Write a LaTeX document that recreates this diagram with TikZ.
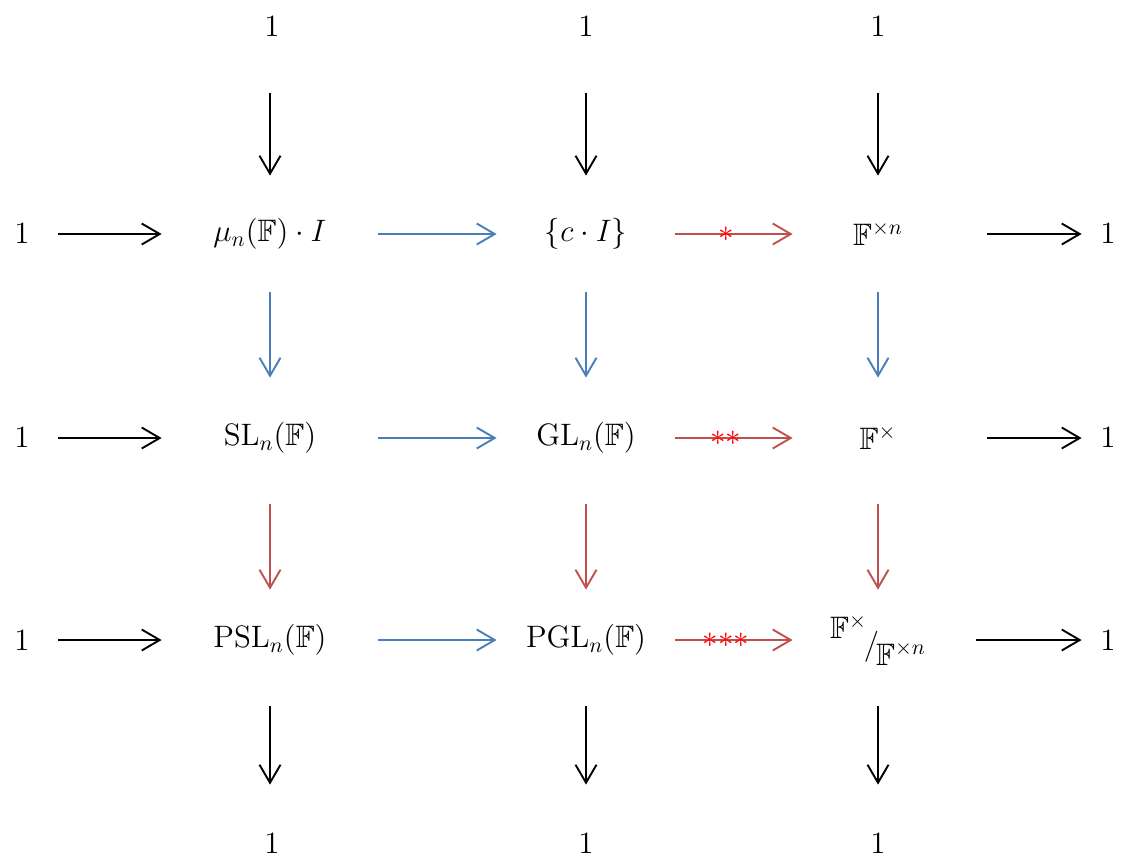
\RequirePackage{fix-cm}
\documentclass[tikz,border=0pt]{standalone}
\usepackage{amssymb}
\usetikzlibrary{arrows.meta}
\definecolor{ablue}{RGB}{74,126,187}
\definecolor{ared}{RGB}{192,80,77}
\definecolor{sred}{RGB}{255,0,0}
\begin{document}
\begin{tikzpicture}[x=0.5pt,y=-0.5pt,
  every node/.style={font=\fontsize{15.5}{18}\selectfont},
  obj/.style 2 args={inner sep=0pt, minimum width=#1pt, minimum height=#2pt},
  arr/.style={-{Straight Barb[length=9pt,width=10.5pt]}, line width=0.95pt},
  blk/.style={arr, black},
  blu/.style={arr, ablue},
  rd/.style={arr, ared},
  star/.style={text=sred, inner sep=0pt}
]
\useasboundingbox (0,0) rectangle (1127,857);
% top row
\node[obj={36}{66}] (t1) at (272,27) {$1$};
\node[obj={89}{66}] (t2) at (586,27) {$1$};
\node[obj={85}{66}] (t3) at (878,27) {$1$};
% row 1
\node[obj={36}{58}] (a0) at (22,234) {$1$};
\node[obj={108}{58}] (a1) at (270,234) {$\mu_n(\mathbb{F})\cdot I$};
\node[obj={89}{58}] (a2) at (586,234) {$\{c\cdot I\}$};
\node[obj={85}{58}] (a3) at (878,234) {$\mathbb{F}^{\times n}$};
\node[obj={26}{58}] (a4) at (1108,234) {$1$};
% row 2
\node[obj={36}{60}] (b0) at (22,438) {$1$};
\node[obj={108}{60}] (b1) at (270,438) {$\mathrm{SL}_n(\mathbb{F})$};
\node[obj={89}{60}] (b2) at (586,438) {$\mathrm{GL}_n(\mathbb{F})$};
\node[obj={85}{60}] (b3) at (878,438) {$\mathbb{F}^{\times}$};
\node[obj={26}{60}] (b4) at (1108,438) {$1$};
% row 3
\node[obj={36}{50}] (c0) at (22,640) {$1$};
\node[obj={108}{50}] (c1) at (270,640) {$\mathrm{PSL}_n(\mathbb{F})$};
\node[obj={89}{50}] (c2) at (586,640) {$\mathrm{PGL}_n(\mathbb{F})$};
\node[obj={85}{50}] (c3) at (878,640) {\raisebox{1.0ex}{$\mathbb{F}^{\times}$}\kern-1.5pt\raisebox{-0.2ex}{$\Big/$}\kern-1.5pt\raisebox{-1.0ex}{$\mathbb{F}^{\times n}$}};
\node[obj={26}{50}] (c4) at (1108,640) {$1$};
% bottom row
\node[obj={36}{58}] (d1) at (272,843) {$1$};
\node[obj={89}{58}] (d2) at (586,843) {$1$};
\node[obj={85}{58}] (d3) at (878,843) {$1$};
% vertical arrows
\draw[blk] (t1.south -| a1) -- (a1);
\draw[blk] (t2) -- (a2);
\draw[blk] (t3) -- (a3);
\draw[blu] (a1) -- (b1);
\draw[blu] (a2) -- (b2);
\draw[blu] (a3) -- (b3);
\draw[rd, shorten <=3pt] (b1) -- (c1);
\draw[rd, shorten <=3pt] (b2) -- (c2);
\draw[rd, shorten <=3pt] (b3) -- (c3);
\draw[blk, shorten <=8pt] (c1) -- (d1.north -| c1);
\draw[blk, shorten <=8pt] (c2) -- (d2);
\draw[blk, shorten <=8pt] (c3) -- (d3);
% horizontal arrows
\draw[blk] (a0) -- (a1);
\draw[blu] (a1) -- (a2);
\draw[rd] (a2) -- node[star, pos=0.43] {$\ast$} (a3);
\draw[blk, shorten <=12pt] (a3) -- (a4);
\draw[blk] (b0) -- (b1);
\draw[blu] (b1) -- (b2);
\draw[rd] (b2) -- node[star, pos=0.43] {${\ast}{\ast}$} (b3);
\draw[blk, shorten <=12pt] (b3) -- (b4);
\draw[blk] (c0) -- (c1);
\draw[blu] (c1) -- (c2);
\draw[rd] (c2) -- node[star, pos=0.43] {${\ast}{\ast}{\ast}$} (c3);
\draw[blk, shorten <=6.5pt] (c3) -- (c4);
\end{tikzpicture}
\end{document}
